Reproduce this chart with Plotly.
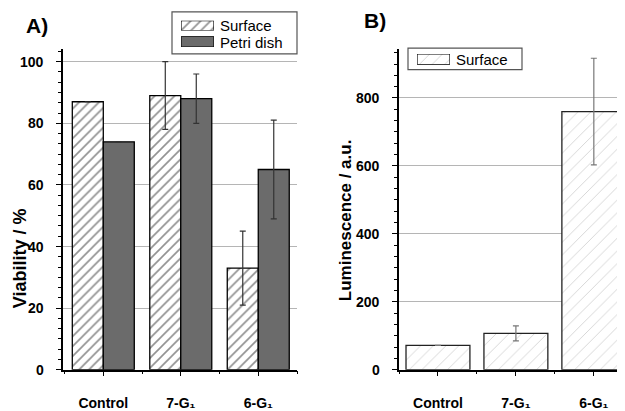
import plotly.graph_objects as go

categories = ["Control", "7-G₁", "6-G₁"]
surface_viability = [87, 89, 33]
surface_viability_err = [0, 11, 12]
petri_viability = [74, 88, 65]
petri_viability_err = [0, 8, 16]
surface_lum = [72, 107, 760]
surface_lum_err = [0, 22, 157]
viability_ticks = [0, 20, 40, 60, 80, 100]
lum_ticks = [0, 200, 400, 600, 800]

# the page body has an 8 px margin, so the figure is drawn 8 px in from the window corner
OX, OY = 8, 8
W, H = 625 - OX, 411 - OY
def px(x): return (x - OX) / W
def py(y): return 1 - (y - OY) / H

FONT = "Liberation Sans, Arial, sans-serif"
xpos = list(range(len(categories)))

fig = go.Figure()

hatchA = dict(shape="/", fgcolor="#262626", bgcolor="white", size=7, solidity=0.24)
hatchB = dict(shape="/", fgcolor="#a8a8a8", bgcolor="white", size=9, solidity=0.1)

fig.add_trace(go.Bar(x=xpos, y=surface_viability, name="Surface", offsetgroup="s",
                     marker=dict(color="white", pattern=hatchA, line=dict(color="black", width=1.3)),
                     error_y=dict(type="data", array=surface_viability_err, color="#333", thickness=1.2, width=3),
                     xaxis="x", yaxis="y", showlegend=False))
fig.add_trace(go.Bar(x=xpos, y=petri_viability, name="Petri dish", offsetgroup="p",
                     marker=dict(color="#6b6b6b", line=dict(color="black", width=1.3)),
                     error_y=dict(type="data", array=petri_viability_err, color="#333", thickness=1.2, width=3),
                     xaxis="x", yaxis="y", showlegend=False))
fig.add_trace(go.Bar(x=xpos, y=surface_lum, name="Surface", width=0.82,
                     marker=dict(color="white", pattern=hatchB, line=dict(color="#222", width=1.3)),
                     error_y=dict(type="data", array=surface_lum_err, color="#777", thickness=1.2, width=3),
                     xaxis="x2", yaxis="y2", showlegend=False))

# legend swatches as tiny bars on their own axes
fig.add_trace(go.Bar(x=[0.5], y=[1], width=1, marker=dict(color="white", pattern=hatchA, line=dict(color="black", width=1.2)),
                     xaxis="x3", yaxis="y3", showlegend=False, hoverinfo="skip"))
fig.add_trace(go.Bar(x=[0.5], y=[1], width=1, marker=dict(color="#6b6b6b", line=dict(color="black", width=1.2)),
                     xaxis="x4", yaxis="y4", showlegend=False, hoverinfo="skip"))
fig.add_trace(go.Bar(x=[0.5], y=[1], width=1, marker=dict(color="white", pattern=hatchB, line=dict(color="black", width=1.2)),
                     xaxis="x5", yaxis="y5", showlegend=False, hoverinfo="skip"))

tickfont = dict(family=FONT, size=14, color="black", weight="bold")

common_x = dict(tickmode="array", tickvals=xpos, ticktext=categories, ticks="outside", ticklen=5,
                tickwidth=1.3, tickcolor="black", showline=True, linecolor="black", linewidth=1.5,
                showgrid=False, zeroline=False, tickfont=tickfont, ticklabelstandoff=15,
                minor=dict(tickmode="linear", tick0=0.5, dtick=1, ticks="outside", ticklen=3,
                           tickcolor="black", tickwidth=1.2, showgrid=False))
common_y = dict(ticks="outside", ticklen=5, tickwidth=1.3, tickcolor="black", showline=True,
                linecolor="black", linewidth=1.5, showgrid=True, gridcolor="#b5b5b5", gridwidth=1,
                zeroline=False, showticklabels=False)

fig.update_layout(
    width=W, height=H, margin=dict(l=0, r=0, t=0, b=0),
    paper_bgcolor="white", plot_bgcolor="white",
    barmode="group", bargap=0.2, bargroupgap=0,
    showlegend=False,
    xaxis=dict(domain=[px(63), px(297)], range=[-0.52, 2.5], anchor="y", **common_x),
    yaxis=dict(domain=[py(378), py(50)], range=[0, 104.1], anchor="x", tickvals=viability_ticks,
               minor=dict(tickmode="linear", tick0=0, dtick=20/6, ticks="outside", ticklen=3,
                          tickcolor="black", tickwidth=1, showgrid=False), **common_y),
    xaxis2=dict(domain=[px(399), 1.0], range=[-0.5, 2.40], anchor="y2", **common_x),
    yaxis2=dict(domain=[py(378), py(50)], range=[0, 944], anchor="x2", tickvals=lum_ticks,
                minor=dict(tickmode="linear", tick0=0, dtick=200/6, ticks="outside", ticklen=3,
                           tickcolor="black", tickwidth=1, showgrid=False), **common_y),
)

def swatch_axes(n, x0, x1, y0, y1):
    fig.update_layout(**{
        f"xaxis{n}": dict(domain=[px(x0), px(x1)], range=[0, 1], visible=False, fixedrange=True, anchor=f"y{n}"),
        f"yaxis{n}": dict(domain=[py(y1), py(y0)], range=[0, 1], visible=False, fixedrange=True, anchor=f"x{n}"),
    })

swatch_axes(3, 181, 214, 21, 31)
swatch_axes(4, 181, 214, 37, 48)
swatch_axes(5, 417, 450, 55, 66)

shapes = [
    dict(type="rect", xref="paper", yref="paper", x0=px(172), x1=px(297), y0=py(55), y1=py(12),
         line=dict(color="#555", width=1.2), fillcolor="rgba(0,0,0,0)"),
    dict(type="rect", xref="paper", yref="paper", x0=px(408), x1=px(522), y0=py(71), y1=py(49),
         line=dict(color="#555", width=1.2), fillcolor="rgba(0,0,0,0)"),
]
fig.update_layout(shapes=shapes)

leg_font = dict(family=FONT, size=15, color="black")
annos = [
    dict(text="Surface", x=px(218), y=py(26), xanchor="left", yanchor="middle", font=leg_font),
    dict(text="Petri dish", x=px(218), y=py(43), xanchor="left", yanchor="middle", font=leg_font),
    dict(text="Surface", x=px(454), y=py(61), xanchor="left", yanchor="middle", font=leg_font),
    dict(text="A)", x=px(24), y=py(26), xanchor="left", yanchor="middle",
         font=dict(family=FONT, size=21, color="black", weight="bold")),
    dict(text="B)", x=px(362), y=py(21), xanchor="left", yanchor="middle",
         font=dict(family=FONT, size=21, color="black", weight="bold")),
    dict(text="Viability / %", x=px(20), y=py(264), textangle=-90, xanchor="center", yanchor="middle",
         font=dict(family=FONT, size=18, color="black", weight="bold")),
    dict(text="Luminescence / a.u.", x=px(345), y=py(225), textangle=-90, xanchor="center", yanchor="middle",
         font=dict(family=FONT, size=17, color="black", weight="bold")),
]
for a in annos:
    a.update(xref="paper", yref="paper", showarrow=False)
# y tick labels placed on the axes' own scales
for v in viability_ticks:
    annos.append(dict(text=str(v), x=px(46), y=v, xref="paper", yref="y", xanchor="right",
                      yanchor="middle", showarrow=False, font=tickfont))
for v in lum_ticks:
    annos.append(dict(text=str(v), x=px(382), y=v, xref="paper", yref="y2", xanchor="right",
                      yanchor="middle", showarrow=False, font=tickfont))
fig.update_layout(annotations=annos)

fig.write_html("out.html")
